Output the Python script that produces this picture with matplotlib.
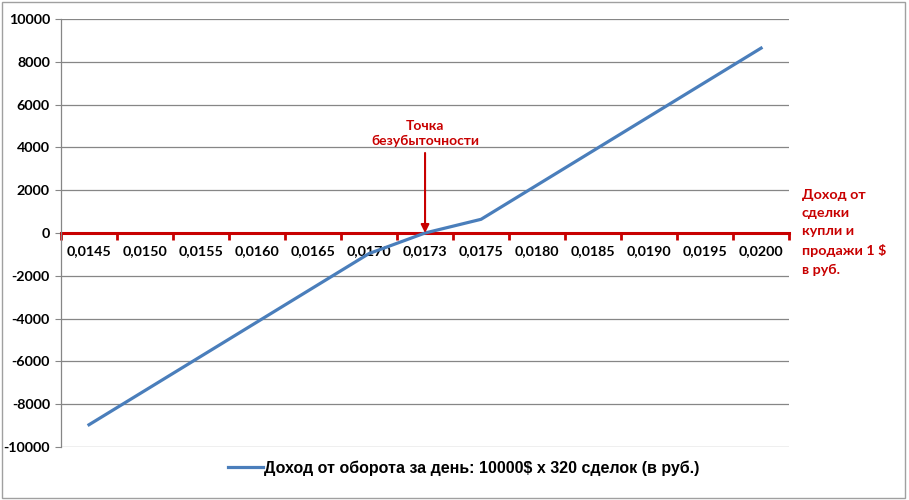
import matplotlib.pyplot as plt
from matplotlib.patches import Rectangle

# categories (rate, rub per $) and income per day
rates = ['0,0145', '0,0150', '0,0155', '0,0160', '0,0165', '0,0170', '0,0173',
         '0,0175', '0,0180', '0,0185', '0,0190', '0,0195', '0,0200']
income = [-8960, -7360, -5760, -4160, -2560, -960, 0,
          640, 2240, 3840, 5440, 7040, 8640]
y_ticks = list(range(-10000, 10001, 2000))
series_label = 'Доход от оборота за день: 10000$ x 320 сделок (в руб.)'
break_even = '0,0173'

red = '#C80000'
blue = '#4A7EBB'
grid = '#868686'

fig = plt.figure(figsize=(9.09, 5.0), dpi=100)
ax = fig.add_axes([0.0671, 0.106, 0.801, 0.856])

x = list(range(len(rates)))
line, = ax.plot(x, income, color=blue, linewidth=2.3, label=series_label, zorder=3)

ax.set_xlim(-0.5, len(rates) - 0.5)
ax.set_ylim(-10000, 10000)
ax.set_yticks(y_ticks)
ax.set_yticklabels([str(v) for v in y_ticks], fontsize=10.3, fontweight='bold',
                   family='Lato')
ax.yaxis.grid(True, color=grid, linewidth=0.9)
ax.set_axisbelow(True)
ax.tick_params(axis='y', length=4, color=grid, pad=4)

# category axis sits on zero, red
ax.spines['bottom'].set_position(('data', 0))
ax.spines['bottom'].set_color(red)
ax.spines['bottom'].set_linewidth(2.2)
ax.spines['bottom'].set_zorder(2)
ax.spines['top'].set_visible(False)
ax.spines['right'].set_visible(False)
ax.spines['left'].set_color(grid)
ax.spines['left'].set_linewidth(0.9)

ax.set_xticks([i - 0.5 for i in range(len(rates) + 1)])
ax.set_xticklabels([])
ax.set_xticks(x, minor=True)
ax.set_xticklabels(rates, minor=True, fontsize=10.3, fontweight='bold', family='Lato')
ax.tick_params(axis='x', which='major', length=5, width=2, color=red, direction='out')
ax.tick_params(axis='x', which='minor', length=0, pad=9)

# break-even annotation
be = rates.index(break_even)
ax.annotate('Точка\nбезубыточности', xy=(be, 0), xytext=(be, 4000),
            ha='center', va='bottom', color=red, fontsize=10, fontweight='bold',
            family='Lato', linespacing=1.35,
            arrowprops=dict(arrowstyle='-|>', color=red, lw=1.5,
                            mutation_scale=12, shrinkA=2, shrinkB=0))

fig.text(0.882, 0.622, 'Доход от\nсделки\nкупли и\nпродажи 1 $\nв руб.',
         ha='left', va='top', color=red, fontsize=10.3, fontweight='bold',
         family='Lato', linespacing=1.62)

fig.legend(handles=[line], loc='center', bbox_to_anchor=(0.51, 0.064),
           frameon=False, handlelength=2.2, handletextpad=0.1,
           prop={'family': 'Liberation Sans', 'weight': 'bold', 'size': 11.5})

fig.patches.append(Rectangle((0.002, 0.004), 0.994, 0.992, transform=fig.transFigure,
                             fill=False, edgecolor='#A0A0A0', linewidth=1))

plt.savefig('out.png', dpi=100)
